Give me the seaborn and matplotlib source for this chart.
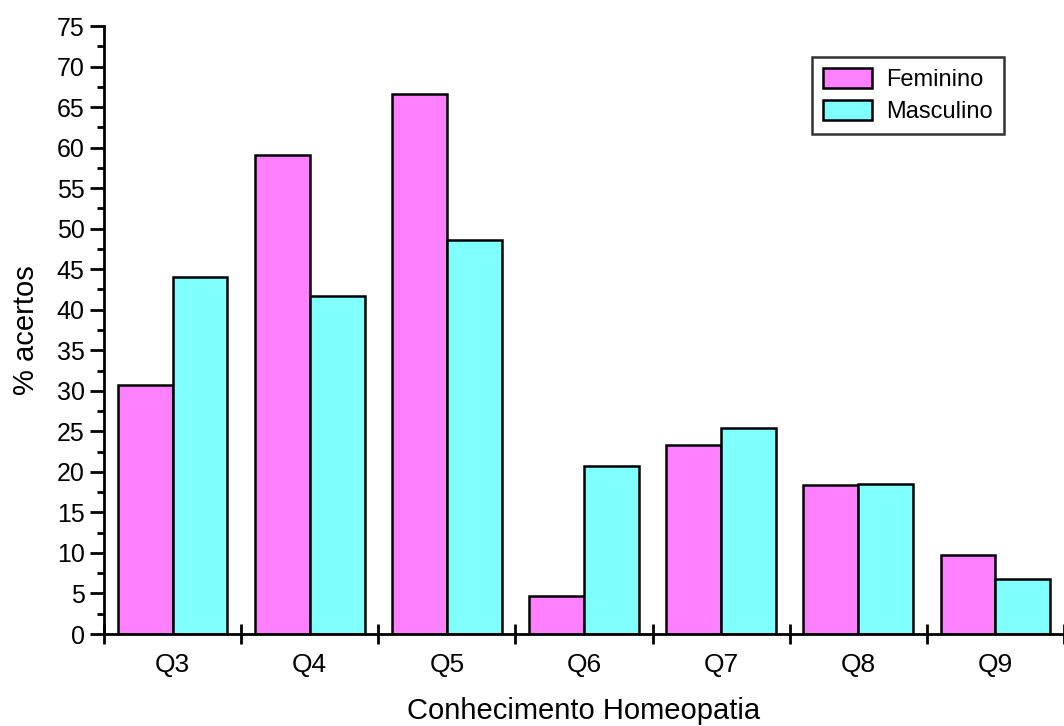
import matplotlib
matplotlib.use("Agg")
import matplotlib.pyplot as plt
import seaborn as sns
import pandas as pd
import numpy as np
from matplotlib.ticker import MultipleLocator

questions = ["Q3", "Q4", "Q5", "Q6", "Q7", "Q8", "Q9"]
feminino = [30.7, 59.1, 66.6, 4.7, 23.3, 18.4, 9.7]
masculino = [44.0, 41.7, 48.6, 20.7, 25.4, 18.5, 6.8]
groups = ["Feminino", "Masculino"]
colors = ["#FF80FF", "#80FFFF"]

df = pd.DataFrame({
    "questao": questions * 2,
    "acertos": feminino + masculino,
    "sexo": [groups[0]] * len(questions) + [groups[1]] * len(questions),
})

sns.set_style("white")
plt.rcParams["font.family"] = ["Liberation Sans", "DejaVu Sans"]
plt.rcParams["text.color"] = "black"
plt.rcParams["axes.labelcolor"] = "black"
plt.rcParams["xtick.color"] = "black"
plt.rcParams["ytick.color"] = "black"

fig = plt.figure(figsize=(10.64, 7.26), dpi=100)
ax = fig.add_axes([104 / 1064, 1 - 634 / 726, (1064 - 104) / 1064, (634 - 26) / 726])

sns.barplot(data=df, x="questao", y="acertos", hue="sexo", palette=colors,
            order=questions, hue_order=groups, width=0.8, saturation=1,
            edgecolor="black", linewidth=1.8, ax=ax)

ax.set_ylim(0, 75)
ax.set_xlim(-0.5, -0.5 + (1064 - 104) / 138.3)

for s in ["top", "right"]:
    ax.spines[s].set_visible(False)
for s in ["left", "bottom"]:
    ax.spines[s].set_linewidth(2)
    ax.spines[s].set_color("black")

ax.yaxis.set_major_locator(MultipleLocator(5))
ax.yaxis.set_minor_locator(MultipleLocator(2.5))
ax.tick_params(axis="y", which="major", direction="out", length=10, width=2,
               labelsize=18, left=True, pad=4)
ax.tick_params(axis="y", which="minor", direction="out", length=5, width=2,
               left=True)

# boundary ticks between categories, labels centred on each category
ax.set_xticks(np.arange(-0.5, len(questions) + 0.5, 1.0))
ax.set_xticklabels([])
ax.set_xticks(np.arange(len(questions)), minor=True)
ax.set_xticklabels(questions, minor=True)
ax.tick_params(axis="x", which="major", direction="inout", length=14, width=2,
               bottom=True)
ax.tick_params(axis="x", which="minor", length=0, labelsize=19, pad=14)

ax.set_xlabel("Conhecimento Homeopatia", fontsize=21, labelpad=14)
ax.set_ylabel("% acertos", fontsize=21, labelpad=12)

leg = ax.legend(loc="upper left", bbox_to_anchor=((812 - 104) / 960, 1 - (57 - 26) / 608),
                fontsize=17, frameon=True, fancybox=False, edgecolor="black",
                handlelength=2.1, handleheight=0.97, borderpad=0.45, labelspacing=0.36,
                handletextpad=0.6, borderaxespad=0)
leg.get_frame().set_linewidth(1.8)
for h in leg.legend_handles:
    h.set_edgecolor("black")
    h.set_linewidth(1.8)

fig.savefig("out.png", dpi=100)
